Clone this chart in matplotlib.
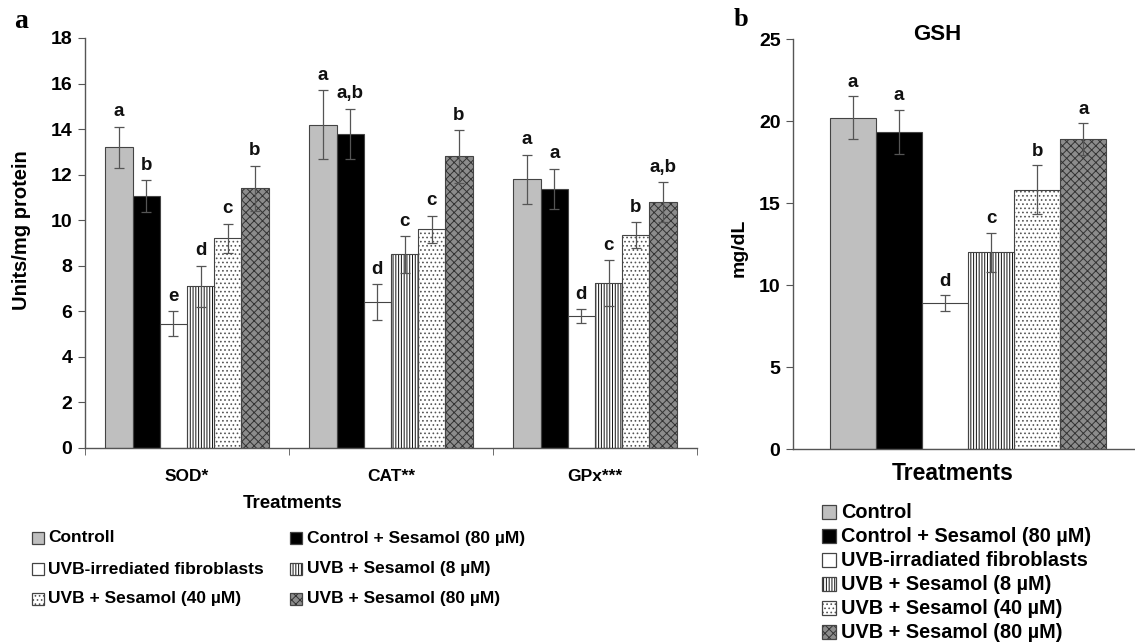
import matplotlib
matplotlib.use('Agg')
import matplotlib.pyplot as plt
from matplotlib.patches import Rectangle
import numpy as np

plt.rcParams['font.family'] = ['Liberation Sans', 'DejaVu Sans']
plt.rcParams['font.weight'] = 'bold'
plt.rcParams['hatch.linewidth'] = 0.7

# ---------------- data ----------------
enzymes = ['SOD*', 'CAT**', 'GPx***']
series_a = ['Controll', 'Control + Sesamol (80 µM)', 'UVB-irrediated fibroblasts',
            'UVB + Sesamol (8 µM)', 'UVB + Sesamol (40 µM)', 'UVB + Sesamol (80 µM)']
series_b = ['Control', 'Control + Sesamol (80 µM)', 'UVB-irradiated fibroblasts',
            'UVB + Sesamol (8 µM)', 'UVB + Sesamol (40 µM)', 'UVB + Sesamol (80 µM)']

control = [13.2, 14.2, 11.8]
control_err = [0.9, 1.5, 1.07]
control_ses80 = [11.05, 13.8, 11.38]
control_ses80_err = [0.7, 1.1, 0.88]
uvb = [5.45, 6.4, 5.8]
uvb_err = [0.55, 0.8, 0.3]
uvb_ses8 = [7.1, 8.5, 7.25]
uvb_ses8_err = [0.9, 0.8, 1.0]
uvb_ses40 = [9.2, 9.6, 9.35]
uvb_ses40_err = [0.65, 0.6, 0.56]
uvb_ses80 = [11.4, 12.8, 10.8]
uvb_ses80_err = [1.0, 1.15, 0.88]

letters_control = ['a', 'a', 'a']
letters_control_ses80 = ['b', 'a,b', 'a']
letters_uvb = ['e', 'd', 'd']
letters_uvb_ses8 = ['d', 'c', 'c']
letters_uvb_ses40 = ['c', 'c', 'b']
letters_uvb_ses80 = ['b', 'b', 'a,b']

gsh = [20.2, 19.35, 8.9, 12.0, 15.8, 18.9]
gsh_err = [1.3, 1.35, 0.5, 1.2, 1.5, 1.0]
gsh_letters = ['a', 'a', 'd', 'c', 'b', 'a']

yticks_a = [0, 2, 4, 6, 8, 10, 12, 14, 16, 18]
yticks_b = [0, 5, 10, 15, 20, 25]

# ---------------- styles ----------------
styles = [
    dict(face='#bfbfbf', hatch=None, hcolor=None),
    dict(face='#000000', hatch=None, hcolor=None),
    dict(face='#ffffff', hatch=None, hcolor=None),
    dict(face='#ffffff', hatch='||||||', hcolor='#111111'),
    dict(face='#ffffff', hatch='....', hcolor='#555555'),
    dict(face='#8c8c8c', hatch='xxxx', hcolor='#333333'),
]
EDGE = '#444444'
ERRC = '#555555'

W, H = 1135, 642
fig = plt.figure(figsize=(W / 100, H / 100), dpi=100)


def draw_bar(ax, x, h, width, st):
    ax.bar(x, h, width, color=st['face'], edgecolor='none', linewidth=0, zorder=2)
    if st['hatch']:
        ax.bar(x, h, width, facecolor='none', edgecolor=st['hcolor'], linewidth=0,
               hatch=st['hatch'], zorder=3)
    ax.bar(x, h, width, facecolor='none', edgecolor=EDGE, linewidth=0.8, zorder=4)


def legend_patch(x0, y0, size, st):
    kw = dict(transform=fig.transFigure)
    xy = (x0 / W, 1 - (y0 + size) / H)
    fig.add_artist(Rectangle(xy, size / W, size / H, facecolor=st['face'],
                             edgecolor='none', linewidth=0, **kw))
    if st['hatch']:
        fig.add_artist(Rectangle(xy, size / W, size / H, facecolor='none',
                                 edgecolor=st['hcolor'], linewidth=0,
                                 hatch=st['hatch'], **kw))
    fig.add_artist(Rectangle(xy, size / W, size / H, facecolor='none',
                             edgecolor=EDGE, linewidth=0.9, **kw))


def style_axes(ax):
    for s in ['top', 'right']:
        ax.spines[s].set_visible(False)
    for s in ['left', 'bottom']:
        ax.spines[s].set_color('#555555')
        ax.spines[s].set_linewidth(1.0)
    ax.tick_params(axis='y', length=5, color='#555555', pad=4)


# ---------------- panel a ----------------
axa = fig.add_axes([85 / W, 1 - 448 / H, (697 - 85) / W, (448 - 38) / H])
vals = [control, control_ses80, uvb, uvb_ses8, uvb_ses40, uvb_ses80]
errs = [control_err, control_ses80_err, uvb_err, uvb_ses8_err, uvb_ses40_err, uvb_ses80_err]
lets = [letters_control, letters_control_ses80, letters_uvb, letters_uvb_ses8,
        letters_uvb_ses40, letters_uvb_ses80]
n = len(vals)
bw = 0.8 / n
xc = np.arange(len(enzymes))
for i in range(n):
    xs = xc - 0.4 + bw * (i + 0.5)
    for j in range(len(enzymes)):
        draw_bar(axa, xs[j], vals[i][j], bw, styles[i])
    axa.errorbar(xs, vals[i], yerr=errs[i], fmt='none', ecolor=ERRC, elinewidth=0.9,
                 capsize=3.5, capthick=0.9, zorder=5)
    for j in range(len(enzymes)):
        axa.annotate(lets[i][j], (xs[j], vals[i][j] + errs[i][j]), xytext=(0, 7.5),
                     textcoords='offset points', ha='center', va='baseline',
                     fontsize=13.5, fontweight='bold', color='#111111')

axa.set_xlim(-0.5, len(enzymes) - 0.5)
axa.set_ylim(0, 18)
axa.set_yticks(yticks_a)
axa.set_yticklabels([str(t) for t in yticks_a], fontsize=14, fontweight='bold')
axa.set_xticks(np.arange(len(enzymes) + 1) - 0.5, minor=True)
axa.set_xticks(xc)
axa.set_xticklabels(enzymes, fontsize=12.5, fontweight='bold')
axa.tick_params(axis='x', which='major', length=0, pad=15)
axa.tick_params(axis='x', which='minor', length=5, color='#555555', direction='out')
style_axes(axa)
axa.set_ylabel('Units/mg protein', fontsize=14.5, fontweight='bold')
axa.yaxis.set_label_coords((31 - 85) / 612, (448 - 230) / 410)
fig.text(293 / W, 1 - 503 / H, 'Treatments', ha='center', va='center',
         fontsize=13.5, fontweight='bold')
fig.text(14 / W, 1 - 22 / H, 'a', ha='left', va='center', fontsize=20,
         fontweight='bold', family=['Liberation Serif', 'DejaVu Serif'])

# legend a
rows = [538, 569, 599]
cols = [(32, 48), (290, 307)]
for k, lab in enumerate(series_a):
    c = k % 2
    r = k // 2
    legend_patch(cols[c][0], rows[r] - 6, 12, styles[k])
    fig.text(cols[c][1] / W, 1 - rows[r] / H, lab, ha='left', va='center',
             fontsize=12.5, fontweight='bold')

# ---------------- panel b ----------------
axb_left, axb_right = 793, 1135
full_w = 350.0
axb = fig.add_axes([axb_left / W, 1 - 449 / H, (axb_right - axb_left) / W, (449 - 39) / H])
bwb = 0.79 / len(gsh)
xb = -0.395 + bwb * (np.arange(len(gsh)) + 0.5)
for i in range(len(gsh)):
    draw_bar(axb, xb[i], gsh[i], bwb, styles[i])
axb.errorbar(xb, gsh, yerr=gsh_err, fmt='none', ecolor=ERRC, elinewidth=0.9,
             capsize=3.5, capthick=0.9, zorder=5)
for i in range(len(gsh)):
    axb.annotate(gsh_letters[i], (xb[i], gsh[i] + gsh_err[i]), xytext=(0, 6.5),
                 textcoords='offset points', ha='center', va='baseline',
                 fontsize=13.5, fontweight='bold', color='#111111')
axb.set_xlim(-0.5, -0.5 + (axb_right - axb_left) / full_w)
axb.set_ylim(0, 25)
axb.set_yticks(yticks_b)
axb.set_yticklabels([str(t) for t in yticks_b], fontsize=14, fontweight='bold')
axb.set_xticks([])
style_axes(axb)
axb.set_ylabel('mg/dL', fontsize=14, fontweight='bold')
axb.yaxis.set_label_coords((748 - 793) / 342, (449 - 248) / 410)
fig.text(937 / W, 1 - 35 / H, 'GSH', ha='center', va='center', fontsize=16,
         fontweight='bold')
fig.text(953 / W, 1 - 474 / H, 'Treatments', ha='center', va='center',
         fontsize=16.5, fontweight='bold')
fig.text(734 / W, 1 - 20 / H, 'b', ha='left', va='center', fontsize=19,
         fontweight='bold', family=['Liberation Serif', 'DejaVu Serif'])

rows_b = [512, 536, 560, 584, 608, 632]
for k, lab in enumerate(series_b):
    legend_patch(822, rows_b[k] - 7, 14, styles[k])
    fig.text(841 / W, 1 - rows_b[k] / H, lab, ha='left', va='center',
             fontsize=14.3, fontweight='bold')

fig.savefig('out.png', dpi=100)
